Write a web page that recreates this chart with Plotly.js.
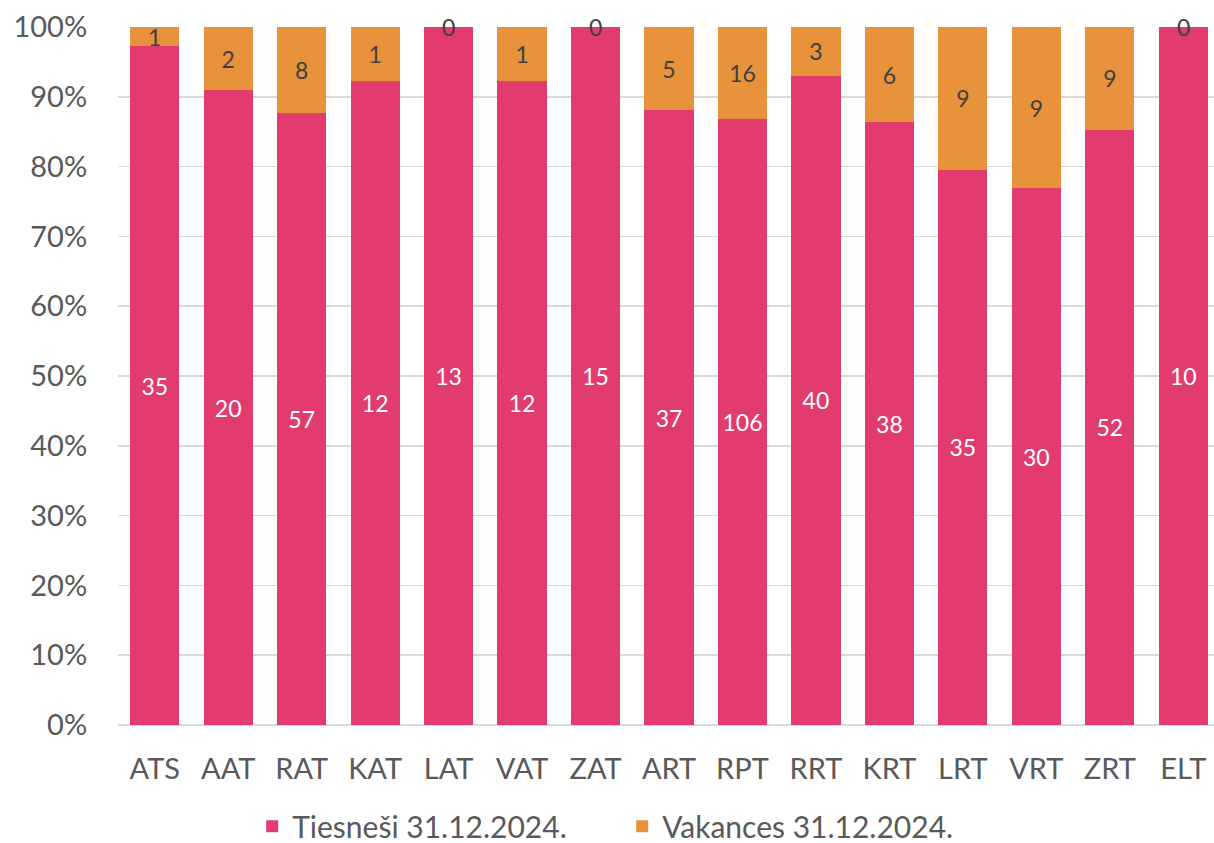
<!DOCTYPE html>
<html>
<head>
<meta charset="utf-8">
<script src="https://cdn.plot.ly/plotly-3.0.1.min.js"></script>
<style>
html,body{margin:0;padding:0;overflow:hidden;background:#fff;}
#chart{width:1220px;height:843px;}
</style>
</head>
<body>
<div id="chart"></div>
<script>
const categories = ["ATS","AAT","RAT","KAT","LAT","VAT","ZAT","ART","RPT","RRT","KRT","LRT","VRT","ZRT","ELT"];
const judges = [35,20,57,12,13,12,15,37,106,40,38,35,30,52,10];
const vacancies = [1,2,8,1,0,1,0,5,16,3,6,9,9,9,0];
const seriesNames = ["Tiesneši 31.12.2024.","Vakances 31.12.2024."];

const FONT = "Lato, 'Open Sans', sans-serif";
const PINK = "#E23C6F";
const ORANGE = "#E8933B";
const LABEL_SIZE = 23;

const traces = [
  {
    type: "bar", name: seriesNames[0], x: categories, y: judges,
    text: judges.map(String), texttemplate: "%{text}",
    textposition: "inside", insidetextanchor: "middle", textangle: 0,
    textfont: {family: FONT, size: LABEL_SIZE, color: "#ffffff"},
    marker: {color: PINK, line: {width: 0}},
    hoverinfo: "x+text+name"
  },
  {
    type: "bar", name: seriesNames[1], x: categories, y: vacancies,
    text: vacancies.map(String), texttemplate: "%{text}",
    textposition: "inside", insidetextanchor: "middle", textangle: 0,
    textfont: {family: FONT, size: LABEL_SIZE, color: "#404040"},
    marker: {color: ORANGE, line: {width: 0}},
    hoverinfo: "x+text+name"
  }
];

// zero-height segments: label drawn on the 100% line
const zeroLabels = [];
categories.forEach((c, i) => {
  if (vacancies[i] === 0) {
    zeroLabels.push({
      x: c, y: 100, xref: "x", yref: "y", text: String(vacancies[i]),
      showarrow: false, yanchor: "middle", xanchor: "center",
      font: {family: FONT, size: LABEL_SIZE, color: "#404040"}
    });
  }
});

const layout = {
  width: 1220, height: 843,
  margin: {l: 118, r: 0, t: 27, b: 118},
  barmode: "stack", barnorm: "percent", bargap: 0.33,
  paper_bgcolor: "#ffffff", plot_bgcolor: "#ffffff",
  font: {family: FONT, color: "#595959", size: 29},
  uniformtext: {mode: "show", minsize: LABEL_SIZE},
  xaxis: {
    type: "category", showgrid: false, showline: false, zeroline: false,
    ticks: "outside", ticklen: 18, tickcolor: "rgba(0,0,0,0)",
    tickfont: {family: FONT, size: 29, color: "#595959"}
  },
  yaxis: {
    range: [0, 100], dtick: 10, ticksuffix: "%",
    showgrid: true, gridcolor: "#D9D9D9", gridwidth: 1.5,
    zeroline: true, zerolinecolor: "#D9D9D9", zerolinewidth: 1.5,
    showline: false,
    ticks: "outside", ticklen: 24, tickcolor: "rgba(0,0,0,0)",
    tickfont: {family: FONT, size: 29, color: "#595959"}
  },
  legend: {
    orientation: "h", traceorder: "normal",
    xref: "container", yref: "container",
    x: 0.51, xanchor: "center", y: 0.02, yanchor: "middle",
    font: {family: FONT, size: 30, color: "#595959"},
    itemwidth: 30, tracegroupgap: 0,
    entrywidth: 325, entrywidthmode: "pixels"
  },
  annotations: zeroLabels,
  showlegend: true
};

Plotly.newPlot("chart", traces, layout, {displayModeBar: false, staticPlot: true});
</script>
</body>
</html>
